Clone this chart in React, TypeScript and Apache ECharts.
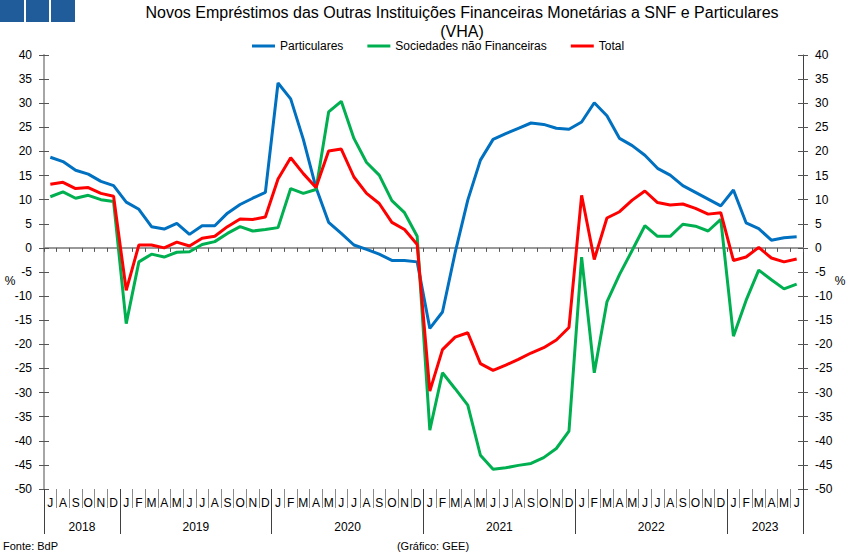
import React, { useEffect, useRef } from 'react';
import * as echarts from 'echarts';

// Month initials, Jul 2018 .. Jun 2023
const monthLabels = [
  'J', 'A', 'S', 'O', 'N', 'D',
  'J', 'F', 'M', 'A', 'M', 'J', 'J', 'A', 'S', 'O', 'N', 'D',
  'J', 'F', 'M', 'A', 'M', 'J', 'J', 'A', 'S', 'O', 'N', 'D',
  'J', 'F', 'M', 'A', 'M', 'J', 'J', 'A', 'S', 'O', 'N', 'D',
  'J', 'F', 'M', 'A', 'M', 'J', 'J', 'A', 'S', 'O', 'N', 'D',
  'J', 'F', 'M', 'A', 'M', 'J',
];
const years = ['2018', '2019', '2020', '2021', '2022', '2023'];
const monthsPerYear = [6, 12, 12, 12, 12, 6];

const particulares = [
  18.8, 17.9, 16.1, 15.3, 13.8, 12.9,
  9.5, 8.0, 4.4, 3.9, 5.1, 2.8, 4.6, 4.6, 7.2, 9.0, 10.3, 11.5,
  34.2, 30.9, 22.5, 12.5, 5.3, 3.0, 0.6, -0.3, -1.3, -2.6, -2.6, -2.9,
  -16.7, -13.3, -1.0, 9.9, 18.2, 22.5, 23.7, 24.8, 25.9, 25.6, 24.8, 24.6,
  26.1, 30.1, 27.4, 22.7, 21.2, 19.2, 16.5, 15.1, 12.9, 11.5, 10.1, 8.7,
  12.0, 5.2, 4.0, 1.6, 2.1, 2.3,
];
const sociedades = [
  10.6, 11.6, 10.3, 10.9, 10.0, 9.6,
  -15.7, -2.9, -1.3, -1.9, -0.9, -0.8, 0.7, 1.3, 3.0, 4.4, 3.5, 3.8,
  4.2, 12.3, 11.3, 12.1, 28.2, 30.4, 22.7, 17.7, 15.1, 9.8, 7.3, 2.4,
  -37.8, -25.9, -29.2, -32.6, -43.0, -45.9, -45.6, -45.1, -44.7, -43.5, -41.6, -38.0,
  -1.9, -25.9, -11.2, -5.5, -0.5, 4.6, 2.4, 2.4, 4.9, 4.5, 3.5, 5.9,
  -18.3, -10.9, -4.6, -6.6, -8.5, -7.5,
];
const total = [
  13.2, 13.6, 12.3, 12.5, 11.3, 10.7,
  -8.8, 0.6, 0.6, 0.0, 1.2, 0.4, 2.0, 2.4, 4.4, 6.0, 5.9, 6.4,
  14.3, 18.7, 15.4, 12.5, 20.1, 20.5, 14.7, 11.3, 9.2, 5.3, 3.8, 0.7,
  -29.7, -21.1, -18.5, -17.6, -24.0, -25.4, -24.3, -23.1, -21.8, -20.7, -19.1, -16.5,
  10.9, -2.4, 6.2, 7.5, 9.9, 11.8, 9.4, 8.9, 9.1, 8.2, 7.0, 7.3,
  -2.6, -1.9, 0.1, -2.1, -2.9, -2.3,
];

const seriesNames = ['Particulares', 'Sociedades não Financeiras', 'Total'];
const seriesColors = ['#0070C0', '#00B050', '#FF0000'];
const yMin = -50;
const yMax = 40;
const yStep = 5;

const FONT = '"Liberation Sans", Arial, sans-serif';

export default function App() {
  const ref = useRef<HTMLDivElement>(null);

  useEffect(() => {
    document.body.style.margin = '0';
    if (!ref.current) return;
    const chart = echarts.init(ref.current, null, { renderer: 'svg' });

    // Year axis built from years/monthsPerYear: boundaries + centers on a 0..N grid
    const nMonths = monthsPerYear.reduce((a, b) => a + b, 0);
    const yearAxisData: string[] = [];
    for (let k = 0; k <= nMonths; k++) yearAxisData.push(String(k));
    const boundaries = new Set<number>([0]);
    const centers: Record<number, string> = {};
    let acc = 0;
    monthsPerYear.forEach((n, k) => {
      centers[acc + n / 2] = years[k];
      acc += n;
      boundaries.add(acc);
    });

    const monthKeys = monthLabels.map((_, i) => 'm' + i);

    const yAxisBase = {
      type: 'value',
      min: yMin,
      max: yMax,
      interval: yStep,
      splitLine: { show: false },
    };

    const option: any = {
      animation: false,
      textStyle: { fontFamily: FONT },
      title: {
        text: 'Novos Empréstimos das Outras Instituições Financeiras Monetárias a SNF e Particulares\n(VHA)',
        left: 462,
        top: 3,
        padding: 0,
        textAlign: 'center',
        textStyle: {
          fontFamily: FONT,
          fontSize: 16,
          fontWeight: 'normal',
          color: '#000',
          lineHeight: 19,
        },
      },
      legend: {
        data: seriesNames,
        left: 252,
        top: 40,
        padding: 0,
        icon: 'rect',
        itemWidth: 23,
        itemHeight: 3,
        itemGap: 24,
        textStyle: { fontFamily: FONT, fontSize: 12, color: '#000' },
      },
      grid: { left: 44, right: 47, top: 55, bottom: 65, containLabel: false },
      xAxis: [
        {
          type: 'category',
          data: monthKeys,
          boundaryGap: true,
          position: 'bottom',
          axisLine: { show: true, onZero: true, lineStyle: { color: '#999', width: 2 } },
          axisTick: { show: true, interval: 0, length: 4, lineStyle: { color: '#555' } },
          axisLabel: { show: false },
          splitLine: { show: false },
        },
        {
          type: 'category',
          data: monthKeys,
          boundaryGap: true,
          position: 'bottom',
          axisLine: { show: false, onZero: false },
          axisTick: { show: true, interval: 0, length: 19, lineStyle: { color: '#8c8c8c' } },
          axisLabel: {
            show: true,
            interval: 0,
            margin: 8,
            fontSize: 12,
            color: '#000',
            fontFamily: FONT,
            formatter: (_v: string, idx: number) => monthLabels[idx],
          },
          splitLine: { show: false },
        },
        {
          type: 'category',
          data: yearAxisData,
          boundaryGap: false,
          position: 'bottom',
          axisLine: { show: false, onZero: false },
          axisTick: {
            show: true,
            length: 45,
            interval: (idx: number) => boundaries.has(idx),
            lineStyle: { color: '#404040' },
          },
          axisLabel: {
            show: true,
            margin: 32,
            fontSize: 12,
            color: '#000',
            fontFamily: FONT,
            interval: (idx: number) => centers[idx] !== undefined,
            formatter: (_v: string, idx: number) => centers[idx] || '',
          },
          splitLine: { show: false },
        },
      ],
      yAxis: [
        {
          ...yAxisBase,
          position: 'left',
          axisLine: { show: true, lineStyle: { color: '#a6a6a6', width: 2 } },
          axisTick: { show: true, length: 5, lineStyle: { color: '#555' } },
          axisLabel: { margin: 12, fontSize: 12, color: '#000', fontFamily: FONT },
        },
        {
          ...yAxisBase,
          position: 'right',
          axisLine: { show: true, lineStyle: { color: '#404040', width: 1 } },
          axisTick: { show: true, length: 5, lineStyle: { color: '#555' } },
          axisLabel: { margin: 12, fontSize: 12, color: '#000', fontFamily: FONT },
        },
        {
          ...yAxisBase,
          position: 'left',
          axisLine: { show: false },
          axisTick: { show: true, inside: true, length: 5, lineStyle: { color: '#555' } },
          axisLabel: { show: false },
        },
        {
          ...yAxisBase,
          position: 'right',
          axisLine: { show: false },
          axisTick: { show: true, inside: true, length: 5, lineStyle: { color: '#555' } },
          axisLabel: { show: false },
        },
      ],
      series: [particulares, sociedades, total].map((d, k) => ({
        name: seriesNames[k],
        type: 'line',
        data: d,
        xAxisIndex: 0,
        yAxisIndex: 0,
        symbol: 'none',
        showSymbol: false,
        color: seriesColors[k],
        lineStyle: { color: seriesColors[k], width: 3 },
        z: 2 + k,
      })),
      graphic: [
        { type: 'rect', left: 0, top: 0, shape: { x: 0, y: 0, width: 24, height: 22 }, style: { fill: '#1f5c99' } },
        { type: 'rect', left: 26, top: 0, shape: { x: 0, y: 0, width: 23, height: 22 }, style: { fill: '#1f5c99' } },
        { type: 'rect', left: 51, top: 0, shape: { x: 0, y: 0, width: 24, height: 22 }, style: { fill: '#1f5c99' } },
        { type: 'text', x: 10, y: 281, style: { text: '%', fill: '#000', font: `12px ${FONT}`, textAlign: 'center', textVerticalAlign: 'middle' } },
        { type: 'text', x: 840, y: 281, style: { text: '%', fill: '#000', font: `12px ${FONT}`, textAlign: 'center', textVerticalAlign: 'middle' } },
        { type: 'text', x: 3, y: 546, style: { text: 'Fonte: BdP', fill: '#000', font: `11px ${FONT}`, textAlign: 'left', textVerticalAlign: 'middle' } },
        { type: 'text', x: 433, y: 546, style: { text: '(Gráfico: GEE)', fill: '#000', font: `11px ${FONT}`, textAlign: 'center', textVerticalAlign: 'middle' } },
      ],
    };

    chart.setOption(option);
    return () => {
      chart.dispose();
    };
  }, []);

  return <div ref={ref} style={{ width: 850, height: 554 }} />;
}
